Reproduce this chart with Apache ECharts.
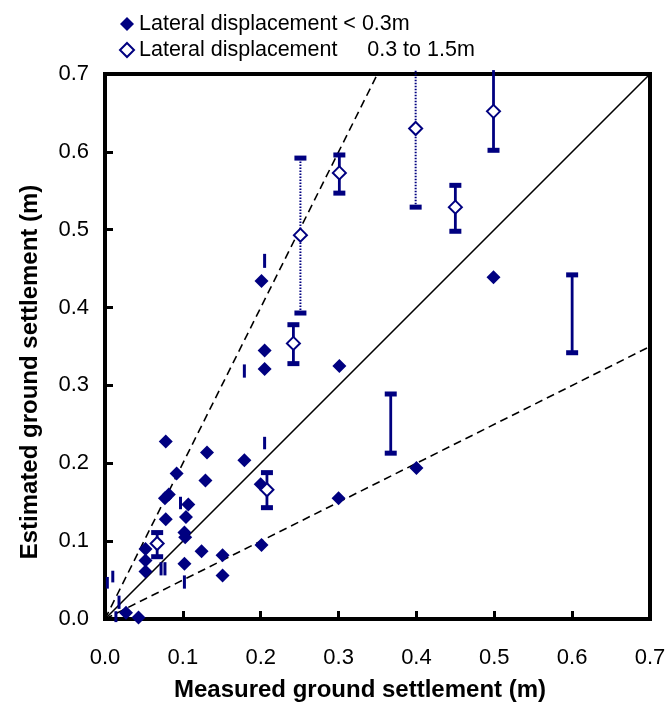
<!DOCTYPE html>
<html lang="en">
<head>
    <meta charset="UTF-8">
    <title>Ground settlement</title>
    <script src="https://cdn.jsdelivr.net/npm/echarts@6/dist/echarts.min.js"></script>
    <style>
        html, body { margin: 0; padding: 0; background: #fff; }
    </style>
</head>
<body>
    <div id="main" style="width: 671px;height:716px;"></div>
    <script type="text/javascript">
        // lateral displacement < 0.3m (filled diamonds)
        var smallX = [0.078, 0.131, 0.179, 0.092, 0.129, 0.082, 0.077, 0.107, 0.078, 0.104,
                      0.102, 0.103, 0.200, 0.124, 0.151, 0.201, 0.052, 0.052, 0.052, 0.102,
                      0.151, 0.027, 0.043, 0.201, 0.205, 0.205, 0.301, 0.499, 0.400, 0.300];
        var smallY = [0.228, 0.214, 0.204, 0.187, 0.178, 0.160, 0.155, 0.147, 0.128, 0.131,
                      0.111, 0.105, 0.173, 0.087, 0.082, 0.095, 0.090, 0.075, 0.061, 0.071,
                      0.056, 0.008, 0.002, 0.434, 0.345, 0.321, 0.325, 0.439, 0.194, 0.155];

        // lateral displacement 0.3 to 1.5m (open diamonds)
        var largeX = [0.067, 0.208, 0.242, 0.251, 0.301, 0.399, 0.450, 0.499];
        var largeY = [0.097, 0.166, 0.354, 0.493, 0.573, 0.630, 0.529, 0.652];

        // ranges drawn as vertical bars
        var barX    = [0.067, 0.208, 0.242, 0.251, 0.301, 0.399, 0.450, 0.499, 0.600, 0.367];
        var barLow  = [0.080, 0.143, 0.328, 0.393, 0.547, 0.529, 0.498, 0.602, 0.342, 0.213];
        var barHigh = [0.111, 0.188, 0.378, 0.592, 0.596, 0.705, 0.557, 0.705, 0.442, 0.289];
        var barDotted = [0, 0, 0, 1, 0, 1, 0, 0, 0, 0];
        var barTopCap = [1, 1, 1, 1, 1, 0, 1, 0, 1, 1];

        // short stray vertical marks
        var markX    = [0.205, 0.179, 0.205, 0.097, 0.072, 0.077, 0.102, 0.010, 0.003, 0.018, 0.014];
        var markLow  = [0.451, 0.310, 0.218, 0.141, 0.056, 0.056, 0.039, 0.047, 0.039, 0.013, -0.004];
        var markHigh = [0.469, 0.327, 0.234, 0.157, 0.073, 0.073, 0.056, 0.062, 0.054, 0.030, 0.010];

        // reference lines
        var lineEqual = [[0, 0], [0.7, 0.7]];
        var lineUpper = [[0, 0], [0.35, 0.7]];
        var lineLower = [[0, 0], [0.7, 0.35]];

        var navy = '#000080';
        var font = 'Liberation Sans, Arial, sans-serif';

        function zip(a, b) {
            var out = [];
            for (var i = 0; i < a.length; i++) out.push([a[i], b[i]]);
            return out;
        }

        var barData = [];
        for (var i = 0; i < barX.length; i++) {
            barData.push([barX[i], barLow[i], barHigh[i], barDotted[i], barTopCap[i]]);
        }
        var markData = [];
        for (var j = 0; j < markX.length; j++) {
            markData.push([markX[j], markLow[j], markHigh[j]]);
        }

        function renderBar(params, api) {
            var lo = api.coord([api.value(0), api.value(1)]);
            var hi = api.coord([api.value(0), api.value(2)]);
            var dotted = api.value(3) === 1;
            var kids = [{
                type: 'line',
                shape: { x1: lo[0], y1: lo[1], x2: hi[0], y2: hi[1] },
                style: { stroke: navy, lineWidth: dotted ? 2 : 2.8, lineDash: dotted ? [1.5, 1.5] : null }
            }, {
                type: 'rect',
                shape: { x: lo[0] - 6, y: lo[1] - 2.5, width: 12, height: 5 },
                style: { fill: navy }
            }];
            if (api.value(4) === 1) {
                kids.push({
                    type: 'rect',
                    shape: { x: hi[0] - 6, y: hi[1] - 2.5, width: 12, height: 5 },
                    style: { fill: navy }
                });
            }
            return { type: 'group', children: kids };
        }

        function renderMark(params, api) {
            var lo = api.coord([api.value(0), api.value(1)]);
            var hi = api.coord([api.value(0), api.value(2)]);
            return {
                type: 'line',
                shape: { x1: lo[0], y1: lo[1], x2: hi[0], y2: hi[1] },
                style: { stroke: navy, lineWidth: 3 }
            };
        }

        function refLine(data, dashed) {
            return {
                type: 'line',
                data: data,
                symbol: 'none',
                silent: true,
                z: 1,
                lineStyle: { color: '#000', width: 1.6, type: dashed ? [8, 5] : 'solid' }
            };
        }

        var axisCommon = {
            type: 'value',
            min: 0,
            max: 0.7,
            interval: 0.1,
            splitLine: { show: false },
            axisLine: { show: true, lineStyle: { color: '#000', width: 4 } },
            axisTick: { show: true, inside: true, length: 8, lineStyle: { color: '#000', width: 3 } },
            axisLabel: {
                color: '#000',
                fontFamily: font,
                fontSize: 22,
                formatter: function (v) { return v.toFixed(1); }
            }
        };

        var myChart = echarts.init(document.getElementById('main'));
        var option = {
            animation: false,
            backgroundColor: '#fff',
            grid: {
                left: 105, right: 21, top: 74, bottom: 97,
                show: true, borderColor: '#000', borderWidth: 4
            },
            legend: {
                orient: 'vertical',
                left: 114,
                top: 8,
                itemGap: 4,
                itemWidth: 14,
                itemHeight: 14,
                textStyle: { fontFamily: font, fontSize: 21.5, color: '#000' },
                data: ['Lateral displacement < 0.3m', 'Lateral displacement     0.3 to 1.5m']
            },
            xAxis: Object.assign({}, axisCommon, {
                axisLabel: Object.assign({}, axisCommon.axisLabel, { margin: 28 })
            }),
            yAxis: Object.assign({}, axisCommon, {
                axisLabel: Object.assign({}, axisCommon.axisLabel, { margin: 16 })
            }),
            graphic: [{
                type: 'text',
                x: 360,
                y: 690,
                style: {
                    text: 'Measured ground settlement (m)',
                    font: 'bold 24px ' + font,
                    fill: '#000',
                    align: 'center',
                    verticalAlign: 'middle'
                }
            }, {
                type: 'text',
                x: 30,
                y: 372,
                rotation: Math.PI / 2,
                style: {
                    text: 'Estimated ground settlement (m)',
                    font: 'bold 24px ' + font,
                    fill: '#000',
                    align: 'center',
                    verticalAlign: 'middle'
                }
            }],
            series: [
                refLine(lineEqual, false),
                refLine(lineUpper, true),
                refLine(lineLower, true),
                {
                    type: 'custom',
                    renderItem: renderMark,
                    data: markData,
                    encode: { x: 0, y: [1, 2] },
                    z: 2,
                    silent: true
                },
                {
                    type: 'custom',
                    renderItem: renderBar,
                    data: barData,
                    encode: { x: 0, y: [1, 2] },
                    z: 2,
                    silent: true
                },
                {
                    name: 'Lateral displacement < 0.3m',
                    type: 'scatter',
                    symbol: 'diamond',
                    symbolSize: 14,
                    z: 3,
                    itemStyle: { color: navy, opacity: 1 },
                    data: zip(smallX, smallY)
                },
                {
                    name: 'Lateral displacement     0.3 to 1.5m',
                    type: 'scatter',
                    symbol: 'diamond',
                    symbolSize: 13,
                    z: 4,
                    itemStyle: { color: '#fff', borderColor: navy, borderWidth: 2, opacity: 1 },
                    data: zip(largeX, largeY)
                }
            ]
        };
        myChart.setOption(option);
    </script>
</body>
</html>
